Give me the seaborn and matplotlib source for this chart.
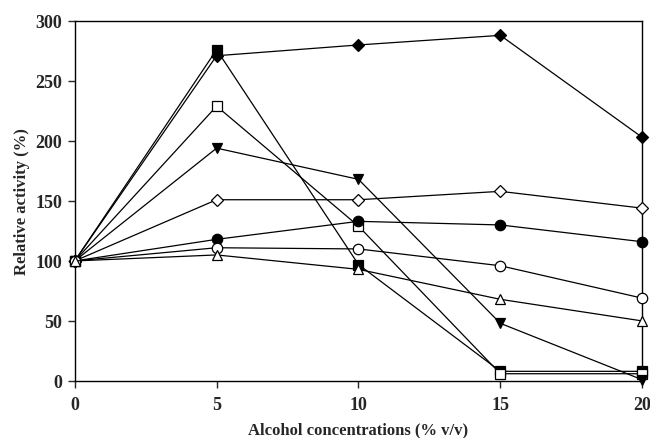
import pandas as pd
import seaborn as sns
import matplotlib.pyplot as plt

conc = [0, 5, 10, 15, 20]

filled_diamond = [100, 271, 280, 288, 203]
filled_square = [100, 276, 97, 8, 8]
open_square = [100, 229, 129, 6, 6]
filled_tri_down = [100, 194, 168, 48, 1]
open_diamond = [100, 151, 151, 158, 144]
filled_circle = [100, 118, 133, 130, 116]
open_circle = [100, 111, 110, 96, 69]
open_tri_up = [100, 105, 93, 68, 50]

series = {
    "filled_diamond": (filled_diamond, "D", "black", 6.5),
    "filled_square": (filled_square, "s", "black", 6.5),
    "open_square": (open_square, "s", "white", 6.5),
    "filled_tri_down": (filled_tri_down, "v", "black", 7.5),
    "open_diamond": (open_diamond, "D", "white", 6.5),
    "filled_circle": (filled_circle, "o", "black", 7.5),
    "open_circle": (open_circle, "o", "white", 7.5),
    "open_tri_up": (open_tri_up, "^", "white", 7.5),
}

sns.set_style("ticks")
plt.rcParams["font.family"] = ["Liberation Serif", "DejaVu Serif"]
plt.rcParams["font.weight"] = "bold"

fig = plt.figure(figsize=(6.5, 4.39), dpi=100)
ax = fig.add_axes([0.115, 0.13, 0.873, 0.82])

for name, (vals, mk, fc, ms) in series.items():
    df = pd.DataFrame({"conc": conc, "activity": vals})
    sns.lineplot(data=df, x="conc", y="activity", ax=ax, color="black",
                 linewidth=0.9, marker=mk, markersize=ms,
                 markerfacecolor=fc, markeredgecolor="black",
                 markeredgewidth=0.9, clip_on=False, zorder=3)

ax.set_xlim(0, 20)
ax.set_ylim(0, 300)
ax.set_xticks(conc)
ax.set_yticks(range(0, 301, 50))
ax.tick_params(direction="out", length=5, width=1, labelsize=13)
ax.tick_params(axis="x", pad=6)
ax.tick_params(axis="y", pad=4)
for lab in ax.get_xticklabels() + ax.get_yticklabels():
    lab.set_fontweight("bold")
for sp in ax.spines.values():
    sp.set_linewidth(1)
    sp.set_color("black")
ax.set_xlabel("Alcohol concentrations (% v/v)", fontsize=12, fontweight="bold", labelpad=6)
ax.set_ylabel("Relative activity (%)", fontsize=12, fontweight="bold", labelpad=4)

fig.savefig("out.png", dpi=100)
